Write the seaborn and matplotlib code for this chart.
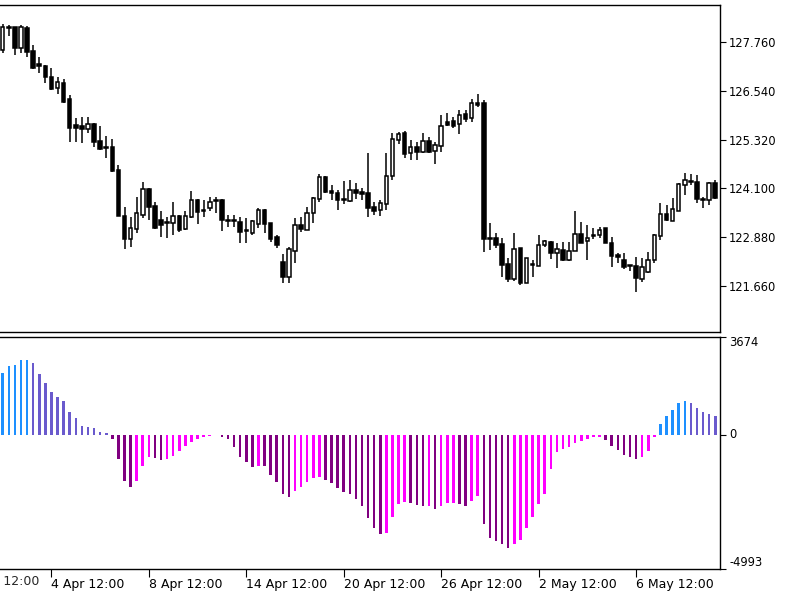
import numpy as np
import pandas as pd
import matplotlib
matplotlib.use("Agg")
import matplotlib.pyplot as plt
import matplotlib.transforms as mtransforms
import seaborn as sns

# ---------------- data ----------------
opens = [127.560, 128.123, 128.128, 127.603, 128.103, 127.543, 127.210, 127.160, 126.893, 126.618,
         126.743, 126.328, 125.673, 125.668, 125.578, 125.710, 125.293, 125.143, 125.143, 124.560,
         123.410, 122.828, 123.093, 123.435, 124.078, 123.660, 123.310, 123.248, 123.243, 123.410,
         123.078, 123.393, 123.810, 123.548, 123.603, 123.798, 123.810, 123.298, 123.298, 123.268,
         123.048, 122.978, 123.210, 123.560, 123.228, 122.878, 122.268, 121.893, 122.543, 123.185,
         123.060, 123.478, 123.828, 124.378, 124.023, 123.993, 123.835, 123.785, 124.048, 124.018,
         123.993, 123.628, 123.560, 123.710, 124.410, 125.310, 125.493, 124.978, 125.143, 125.018,
         125.293, 125.043, 125.160, 125.768, 125.793, 125.710, 125.960, 125.853, 126.243, 126.243,
         122.848, 122.853, 122.710, 122.210, 121.828, 122.603, 121.735, 122.198, 122.160, 122.685,
         122.768, 122.493, 122.560, 122.298, 122.543, 122.960, 122.793, 122.923, 122.935, 123.103,
         122.743, 122.423, 122.310, 122.173, 122.160, 121.828, 122.018, 122.310, 122.910, 123.460,
         123.293, 123.543, 124.185, 124.285, 124.268, 123.835, 123.810, 124.228]
highs = [128.210, 128.185, 128.143, 128.185, 128.160, 127.685, 127.378, 127.173, 127.103, 126.878,
         126.835, 126.435, 125.853, 125.878, 125.878, 125.723, 125.660, 125.410, 125.328, 124.685,
         123.628, 123.393, 123.893, 124.268, 124.098, 123.768, 123.543, 123.393, 123.768, 123.435,
         123.543, 124.043, 123.828, 123.810, 123.878, 123.893, 123.828, 123.435, 123.435, 123.393,
         123.353, 123.298, 123.603, 123.578, 123.243, 122.935, 122.460, 122.628, 123.353, 123.393,
         123.628, 123.893, 124.460, 124.410, 124.185, 124.060, 124.285, 124.310, 124.228, 124.103,
         124.993, 123.768, 123.810, 124.978, 125.478, 125.518, 125.543, 125.310, 125.268, 125.478,
         125.393, 125.268, 125.935, 125.978, 125.893, 126.060, 126.060, 126.328, 126.460, 126.310,
         123.228, 122.993, 122.853, 122.353, 122.978, 122.610, 122.360, 122.310, 122.935, 122.810,
         122.773, 122.735, 122.748, 122.748, 123.543, 123.268, 123.185, 123.103, 123.143, 123.118,
         122.893, 122.478, 122.478, 122.185, 122.393, 122.353, 122.518, 122.948, 123.743, 123.685,
         123.853, 124.243, 124.478, 124.460, 124.435, 123.893, 124.268, 124.310]
lows = [127.478, 127.910, 127.435, 127.478, 127.393, 127.090, 126.978, 126.728, 126.560, 126.460,
        126.243, 125.268, 125.268, 125.243, 125.493, 125.128, 125.060, 124.853, 124.518, 123.398,
        122.578, 122.643, 122.978, 123.353, 123.310, 123.085, 122.878, 122.853, 122.935, 123.010,
        123.060, 123.353, 123.210, 123.393, 123.543, 123.478, 123.043, 123.143, 123.143, 122.728,
        122.728, 122.935, 123.103, 122.978, 122.768, 122.603, 121.743, 121.743, 122.228, 123.018,
        123.048, 123.243, 123.768, 123.978, 123.810, 123.560, 123.710, 123.768, 123.828, 123.810,
        123.378, 123.435, 123.410, 123.560, 124.310, 125.210, 124.853, 124.810, 124.810, 124.978,
        124.978, 124.710, 125.018, 125.660, 125.603, 125.460, 125.768, 125.768, 126.143, 122.518,
        122.560, 122.603, 121.893, 121.768, 121.785, 121.685, 121.723, 121.885, 122.148, 122.643,
        122.335, 122.103, 122.285, 122.285, 122.535, 122.723, 122.310, 122.828, 122.853, 122.723,
        122.128, 122.228, 122.078, 122.043, 121.518, 121.768, 121.993, 122.228, 122.810, 123.293,
        123.285, 123.535, 123.935, 124.185, 123.728, 123.603, 123.685, 123.828]
closes = [128.128, 128.098, 127.603, 128.128, 127.518, 127.103, 127.148, 126.878, 126.578, 126.768,
          126.268, 125.618, 125.610, 125.578, 125.710, 125.268, 125.078, 125.103, 124.543, 123.410,
          122.828, 123.118, 123.478, 124.078, 123.643, 123.103, 123.185, 123.223, 123.410, 123.060,
          123.410, 123.810, 123.518, 123.523, 123.768, 123.773, 123.310, 123.273, 123.273, 123.018,
          123.023, 123.285, 123.560, 123.210, 122.828, 122.685, 121.893, 122.578, 123.185, 123.078,
          123.478, 123.853, 124.378, 124.018, 123.985, 123.810, 123.810, 124.060, 123.985, 123.960,
          123.603, 123.543, 123.728, 124.410, 125.328, 125.453, 124.960, 125.143, 125.018, 125.293,
          125.018, 125.185, 125.660, 125.685, 125.660, 125.935, 125.828, 126.243, 126.185, 122.828,
          122.823, 122.685, 122.185, 121.828, 122.578, 121.735, 122.353, 122.173, 122.685, 122.785,
          122.485, 122.585, 122.298, 122.543, 122.960, 122.728, 122.853, 122.898, 123.060, 122.728,
          122.410, 122.373, 122.143, 122.148, 121.853, 122.143, 122.310, 122.935, 123.460, 123.310,
          123.578, 124.210, 124.310, 124.260, 123.828, 123.810, 124.243, 123.853]

hist = [2312, 2562, 2625, 2788, 2800, 2688, 2288, 1938, 1588, 1412,
        1250, 850, 625, 338, 288, 250, 100, 62, -150, -900,
        -1712, -1938, -1712, -1150, -838, -862, -925, -900, -800, -588,
        -400, -250, -150, -88, -50, -12, -62, -150, -462, -812,
        -1025, -1188, -1150, -1160, -1488, -1775, -2212, -2312, -2088, -1938,
        -1775, -1625, -1588, -1688, -1812, -1988, -2150, -2212, -2400, -2650,
        -3088, -3462, -3688, -3650, -3062, -2588, -2525, -2562, -2612, -2650,
        -2650, -2775, -2650, -2562, -2562, -2588, -2650, -2488, -2300, -3338,
        -3838, -3962, -4088, -4238, -4088, -3938, -3462, -3062, -2588, -2212,
        -1275, -650, -525, -438, -312, -212, -150, -88, -62, -188,
        -400, -550, -738, -838, -900, -812, -612, -88, 388, 688,
        912, 1188, 1250, 1188, 1012, 850, 788, 688]

price_ticks = [121.660, 122.880, 124.100, 125.320, 126.540, 127.760]
osc_ticks = [-4993, 0, 3674]
date_labels = ["29 Mar 12:00", "4 Apr 12:00", "8 Apr 12:00", "14 Apr 12:00", "20 Apr 12:00",
               "26 Apr 12:00", "2 May 12:00", "6 May 12:00"]
date_bars = [-8, 8, 24, 40, 56, 72, 88, 104]

# ---------------- styling ----------------
sns.set_style("white")
plt.rcParams['font.family'] = ['DejaVu Sans']

n = len(opens)
idx = np.arange(n)
o = np.array(opens); h = np.array(highs); l = np.array(lows); c = np.array(closes)
v = np.array(hist, dtype=float)

fig = plt.figure(figsize=(8, 6), dpi=100)
ax1 = fig.add_axes([0, 1 - 332 / 600, 0.9, (332 - 4.5) / 600])
ax2 = fig.add_axes([0, 1 - 568.5 / 600, 0.9, (568.5 - 336.5) / 600])

xlo, xhi = -2.7 / 6.09, (720 - 2.7) / 6.09

# candles
ax1.vlines(idx, l, h, color="black", linewidth=1.1, zorder=2)
up = c >= o
body_lo = np.minimum(o, c)
body_h = np.abs(c - o)
ax1.bar(idx[up], body_h[up], bottom=body_lo[up], width=0.58, color="white",
        edgecolor="black", linewidth=1.1, zorder=3)
ax1.bar(idx[~up], body_h[~up], bottom=body_lo[~up], width=0.58, color="black",
        edgecolor="black", linewidth=1.1, zorder=3)
ax1.set_xlim(xlo, xhi)
ax1.set_ylim(128.81 - 332 / 40, 128.81 - 4.5 / 40)

# oscillator histogram colours (rising / falling)
cats = []
for i in range(n):
    prev = v[i - 1] if i > 0 else v[i] - 1
    if v[i] >= 0:
        cats.append("pos_up" if v[i] >= prev else "pos_dn")
    else:
        cats.append("neg_up" if v[i] >= prev else "neg_dn")
df = pd.DataFrame({"i": idx, "v": v, "c": cats})
pal = {"pos_up": "#1E90FF", "pos_dn": "#6A5ACD", "neg_up": "#FF00FF", "neg_dn": "#800080"}
sns.barplot(data=df, x="i", y="v", hue="c", palette=pal, native_scale=True, width=0.42,
            dodge=False, legend=False, errorbar=None, saturation=1, linewidth=0, ax=ax2)
ax2.set_xlim(xlo, xhi)
ax2.set_ylim(-4993, 3674)
ax2.set_xlabel(""); ax2.set_ylabel("")

for ax in (ax1, ax2):
    ax.set_facecolor("white")
    ax.spines["left"].set_visible(False)
    for s in ("top", "right", "bottom"):
        ax.spines[s].set_visible(True)
        ax.spines[s].set_color("black")
        ax.spines[s].set_linewidth(1.0)
    ax.yaxis.tick_right()
    ax.tick_params(axis="y", direction="out", length=4, width=0.8, pad=2.5,
                   labelsize=8.3, colors="black", right=True, left=False)

ax1.set_yticks(price_ticks)
ax1.set_yticklabels([f"{t:.3f}" for t in price_ticks])
ax1.set_xticks([])

ax2.set_yticks(osc_ticks)
ax2.set_yticklabels([str(t) for t in osc_ticks])
for lbl, va in zip(ax2.get_yticklabels(), ["bottom", "center", "top"]):
    lbl.set_verticalalignment(va)

vis = [(b, s) for b, s in zip(date_bars, date_labels) if xlo <= b <= xhi]
ax2.set_xticks([b for b, _ in vis])
ax2.set_xticklabels([s for _, s in vis], ha="left", fontsize=9)
ax2.tick_params(axis="x", direction="out", length=6, width=0.8, pad=0.5, colors="black", bottom=True)
trans = mtransforms.blended_transform_factory(ax2.transData, ax2.transAxes)
for b, s in zip(date_bars, date_labels):
    if not (xlo <= b <= xhi):
        ax2.text(b + 0.4, -6.5 / 232, s, transform=trans, ha="left", va="top", fontsize=9,
                 clip_on=False)

fig.savefig("out.png", dpi=100, facecolor="white")
